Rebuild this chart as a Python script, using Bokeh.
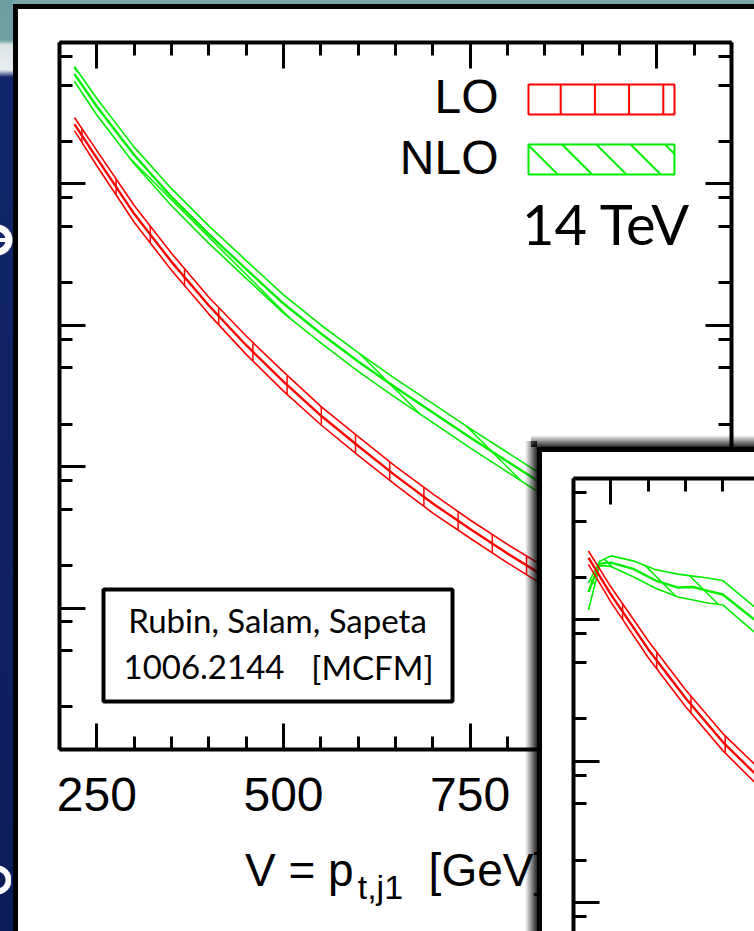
import numpy as np
from bokeh.plotting import figure
from bokeh.models import FixedTicker, LinearAxis, LogAxis, Range1d, Label, CustomJSTickFormatter, Div
from bokeh.layouts import column
from bokeh.embed import file_html
from bokeh.resources import INLINE

# ---------------- data (y axis carries no labels) ----------------
pt_main = [220, 250, 300, 350, 400, 450, 500, 550, 600, 650, 700, 750, 800, 850]
lo_main = [2.65, 1.52, 0.614, 0.281, 0.138, 0.0723, 0.0400, 0.0230, 0.0140, 0.00865, 0.00549, 0.00362, 0.00243, 0.00167]
lo_main_up = [2.95, 1.72, 0.704, 0.323, 0.158, 0.0840, 0.0468, 0.0267, 0.0163, 0.01004, 0.00642, 0.00420, 0.00282, 0.00195]
lo_main_dn = [2.38, 1.345, 0.536, 0.245, 0.120, 0.0623, 0.0342, 0.0198, 0.01203, 0.00745, 0.00470, 0.00312, 0.00209, 0.00143]
nlo_main = [5.99, 3.53, 1.60, 0.809, 0.441, 0.250, 0.1426, 0.0875, 0.0555, 0.0363, 0.0242, 0.0161, 0.01089, 0.00736]
nlo_main_up = [6.77, 4.02, 1.82, 0.925, 0.505, 0.287, 0.164, 0.1005, 0.0640, 0.0418, 0.0279, 0.0186, 0.0126, 0.0085]
nlo_main_dn = [5.32, 3.07, 1.39, 0.700, 0.380, 0.215, 0.122, 0.0750, 0.0472, 0.0308, 0.0205, 0.0136, 0.00916, 0.00618]

pt_inset_lo = [220, 250, 300, 350, 400, 450]
lo_inset = [2.754, 1.517, 0.621, 0.280, 0.1368, 0.0753]
lo_inset_up = [3.07, 1.714, 0.712, 0.321, 0.157, 0.0874]
lo_inset_dn = [2.47, 1.342, 0.542, 0.244, 0.119, 0.0649]
pt_inset_nlo = [220, 235, 250, 280, 310, 340, 360, 380, 400, 440, 480]
nlo_inset = [1.575, 2.500, 2.541, 2.294, 1.898, 1.694, 1.708, 1.606, 1.512, 1.028, 0.747]
nlo_inset_up = [1.822, 2.603, 2.837, 2.616, 2.264, 2.108, 2.041, 1.976, 1.898, 1.265, 0.922]
nlo_inset_dn = [1.176, 2.420, 2.389, 2.018, 1.672, 1.452, 1.383, 1.317, 1.275, 0.839, 0.605]

x_major = [250, 500, 750, 1000]
x_minor = list(range(200, 1101, 50))
x_tick_text = {250: "250", 500: "500", 750: "750", 1000: ""}
y_major = [1e-4, 1e-3, 1e-2, 1e-1, 1.0, 10.0]
y_minor = [m * 10.0 ** e for e in range(-5, 1) for m in (2, 5, 8)]

# ---------------- geometry / style ----------------
W, H = 754, 931
RED, GREEN = "#ff0000", "#00ee00"
X0, X1 = 200, 1100
FL, FT, FW, FH = 59, 42, 672, 707          # main frame (page px)
LTOP, NDEC = 1.0, 5.0
PANEL_X, PANEL_Y = 537, 447                  # inset panel (black border) position
IFX, IFY = 573, 478                          # inset frame position (page px)
IBL, IBT = 70, 45                            # inset canvas borders (left/top)
EX, EY = IFX - IBL, IFY - IBT                # inset element position
IFW, IFH = W - IFX, H - IFY
IX1 = X0 + IFW * (X1 - X0) / FW
INDEC = IFH * NDEC / FH
BASE_K = 0.40                                # Label anchor -> alphabetic baseline offset (em)


class PageMap:
    def __init__(s, left, top, fw, fh, x0, x1, ltop, ndec):
        s.left, s.top, s.fw, s.fh = left, top, fw, fh
        s.x0, s.x1, s.ltop, s.ndec = x0, x1, ltop, ndec

    def px(s, g):
        return s.left + (np.asarray(g, float) - s.x0) * s.fw / (s.x1 - s.x0)

    def py(s, v):
        return s.top + (s.ltop - np.log10(np.asarray(v, float))) * s.fh / s.ndec

    def gx(s, px):
        return s.x0 + (np.asarray(px, float) - s.left) * (s.x1 - s.x0) / s.fw

    def vy(s, py):
        return 10.0 ** (s.ltop - (np.asarray(py, float) - s.top) * s.ndec / s.fh)


MM = PageMap(FL, FT, FW, FH, X0, X1, LTOP, NDEC)
IM = PageMap(IFX, IFY, IFW, IFH, X0, IX1, LTOP, INDEC)


def hatch_v(xp, yu, yl, period, phase):
    out = []
    x = phase + np.ceil((xp[0] - phase) / period) * period
    while x <= xp[-1]:
        out.append((x, np.interp(x, xp, yu), x, np.interp(x, xp, yl)))
        x += period
    return out


def hatch_d(xp, yu, yl, period, phase):
    out = []
    t = np.arange(xp[0], xp[-1] + 1e-9, 0.2)
    yut = np.interp(t, xp, yu)
    ylt = np.interp(t, xp, yl)
    c = phase + np.ceil(((t - ylt).min() - phase) / period) * period
    cmax = (t - yut).max()
    while c <= cmax:
        y = t - c
        inside = ((y >= yut) & (y <= ylt)).astype(int)
        idx = np.flatnonzero(np.diff(np.concatenate([[0], inside, [0]])))
        for a, b in zip(idx[::2], idx[1::2]):
            if b - 1 > a:
                out.append((t[a], y[a], t[b - 1], y[b - 1]))
        c += period
    return out


def draw_segs(fig, m, segs, color, lw=1.5):
    if not segs:
        return
    s = np.array(segs)
    fig.segment(m.gx(s[:, 0]), m.vy(s[:, 1]), m.gx(s[:, 2]), m.vy(s[:, 3]),
                line_color=color, line_width=lw)


def band(fig, m, xs, up, mid, dn, color, kind, period, phase):
    fig.line(xs, up, line_color=color, line_width=1.6)
    fig.line(xs, dn, line_color=color, line_width=1.6)
    fig.line(xs, mid, line_color=color, line_width=2.4)
    xp, yu, yl = m.px(xs), m.py(up), m.py(dn)
    segs = hatch_v(xp, yu, yl, period, phase) if kind == "v" else hatch_d(xp, yu, yl, period, phase)
    draw_segs(fig, m, segs, color)


def style_axis(ax, ticks, minor, labels=False):
    ax.ticker = FixedTicker(ticks=ticks, minor_ticks=minor)
    ax.axis_line_width = 4
    ax.axis_line_color = "black"
    ax.major_tick_line_width = 3
    ax.minor_tick_line_width = 3
    ax.major_tick_in = 26
    ax.major_tick_out = 0
    ax.minor_tick_in = 13
    ax.minor_tick_out = 0
    if not labels:
        ax.formatter = CustomJSTickFormatter(code="return ''")
        ax.major_label_text_font_size = "0px"
        ax.major_label_standoff = 0


# ---------------- main figure ----------------
main = figure(frame_width=FW, frame_height=FH, frame_align=False,
              min_border_left=FL, min_border_right=W - FL - FW,
              min_border_top=FT, min_border_bottom=H - FT - FH,
              x_range=Range1d(X0, X1), y_range=Range1d(10 ** (LTOP - NDEC), 10 ** LTOP),
              y_axis_type="log", output_backend="svg", toolbar_location=None,
              border_fill_color=None, background_fill_color="white",
              outline_line_color=None)
main.grid.visible = False
main.title.visible = False
main.add_layout(LinearAxis(), "above")
main.add_layout(LogAxis(), "right")
for ax in main.xaxis:
    style_axis(ax, x_major, x_minor)
for ax in main.yaxis:
    style_axis(ax, y_major, y_minor)
bx = main.below[0]
bx.major_label_overrides = x_tick_text
bx.major_label_text_font = "Liberation Sans"
bx.major_label_text_font_size = "48px"
bx.major_label_text_color = "black"
bx.major_label_standoff = 28

main.styles = {
    "background": ("linear-gradient(#ffffff,#ffffff) 18px 9px / 736px 922px no-repeat, "
                   "linear-gradient(#000000,#000000) 13px 4px / 741px 927px no-repeat, "
                   "radial-gradient(circle at -3px 240px, rgba(255,255,255,0) 0 8px, #ffffff 9px 15px, "
                   "rgba(255,255,255,0) 16px) 0px 0px / 13px 931px no-repeat, "
                   "linear-gradient(#ffffff,#ffffff) 0px 238px / 11px 4px no-repeat, "
                   "radial-gradient(circle at -3px 880px, rgba(255,255,255,0) 0 8px, #ffffff 9px 14px, "
                   "rgba(255,255,255,0) 15px) 0px 0px / 11px 931px no-repeat, "
                   "linear-gradient(to bottom, #6c9da1 0px, #6f9fa3 40px, #dde5e9 45px, "
                   "#e8edf0 70px, #12256a 77px, #0c1d5b 931px) 0px 0px / 13px 931px no-repeat, "
                   "#79a5a8")
}

band(main, MM, pt_main, nlo_main_up, nlo_main, nlo_main_dn, GREEN, "d", 34.3, 6.0)
band(main, MM, pt_main, lo_main_up, lo_main, lo_main_dn, RED, "v", 34.2, 13.0)

# legend (label left, hatched box right)
for (ytop, ybot, color, kind, period, phase) in [(84, 114, RED, "v", 34.2, 13.0),
                                                  (144, 174, GREEN, "d", 34.3, 6.0)]:
    main.quad(left=MM.gx(528), right=MM.gx(674), top=MM.vy(ytop), bottom=MM.vy(ybot),
              fill_color=None, line_color=color, line_width=2)
    xp = np.array([528.0, 674.0])
    yu = np.array([ytop, ytop], float)
    yl = np.array([ybot, ybot], float)
    segs = hatch_v(xp, yu, yl, period, phase) if kind == "v" else hatch_d(xp, yu, yl, period, phase)
    draw_segs(main, MM, segs, color, 2)


def label(fig, m, px, base_py, text, size, font, align="left", color="black"):
    py = base_py - BASE_K * size
    fig.add_layout(Label(x=float(m.gx(px)), y=float(m.vy(py)), text=text,
                         text_font=font, text_font_size=f"{size}px", text_align=align,
                         text_baseline="alphabetic", text_color=color))


label(main, MM, 498, 115, "LO", 48, "Liberation Sans", "right")
label(main, MM, 498, 176, "NLO", 48, "Liberation Sans", "right")
label(main, MM, 606, 245, "14 TeV", 56, "Lato", "center")

# reference box
main.quad(left=MM.gx(103), right=MM.gx(452), top=MM.vy(589), bottom=MM.vy(701),
          fill_color="white", line_color="black", line_width=4)
label(main, MM, 277, 633, "Rubin, Salam, Sapeta", 33, "Lato", "center")
label(main, MM, 123, 680, "1006.2144", 33, "Lato", "left")
label(main, MM, 433, 680, "[MCFM]", 33, "Lato", "right")

# ---------------- x-axis title (HTML, for the subscript) ----------------
TX, TY, TW, TH = 245, 847, 420, 60
title = Div(text=('V = p<sub style="font-size:34px;vertical-align:-13px;line-height:0;'
                  'margin-left:4px">t,j1</sub>&nbsp; [GeV]'),
            width=TW, height=TH, margin=(TY - H, 0, 0, TX),
            styles={"font-family": "'Liberation Sans', Arial, sans-serif", "font-size": "46px",
                    "line-height": "46px", "color": "black", "white-space": "nowrap"})

# ---------------- inset figure ----------------
inset = figure(frame_width=IFW, frame_height=IFH, frame_align=False,
               min_border_left=IBL, min_border_right=0, min_border_top=IBT, min_border_bottom=0,
               x_range=Range1d(X0, IX1), y_range=Range1d(10 ** (LTOP - INDEC), 10 ** LTOP),
               y_axis_type="log", x_axis_location="above", y_axis_location="left",
               output_backend="svg", toolbar_location=None,
               border_fill_color=None, background_fill_color="white",
               outline_line_color=None, margin=(EY - (TY + TH), 0, 0, EX))
inset.grid.visible = False
inset.title.visible = False
style_axis(inset.xaxis[0], x_major, x_minor)
style_axis(inset.yaxis[0], y_major, y_minor)
px0, py0 = PANEL_X - EX, PANEL_Y - EY
inset.styles = {
    "background": (f"linear-gradient(#ffffff,#ffffff) {px0 + 5}px {py0 + 5}px / 100% 100% no-repeat, "
                   f"linear-gradient(#000000,#000000) {px0}px {py0}px / 100% 100% no-repeat, "
                   f"linear-gradient(to right, rgba(0,0,0,0), rgba(0,0,0,0.85)) {px0 - 12}px {py0 - 6}px / 12px 100% no-repeat, "
                   f"linear-gradient(to bottom, rgba(0,0,0,0), rgba(0,0,0,0.85)) {px0 - 6}px {py0 - 12}px / 100% 12px no-repeat")
}

band(inset, IM, pt_inset_nlo, nlo_inset_up, nlo_inset, nlo_inset_dn, GREEN, "d", 34.3, 11.0)
band(inset, IM, pt_inset_lo, lo_inset_up, lo_inset, lo_inset_dn, RED, "v", 34.2, 6.5)

layout = column(main, title, inset, spacing=0)
open("out.html", "w").write(file_html(layout, INLINE))
